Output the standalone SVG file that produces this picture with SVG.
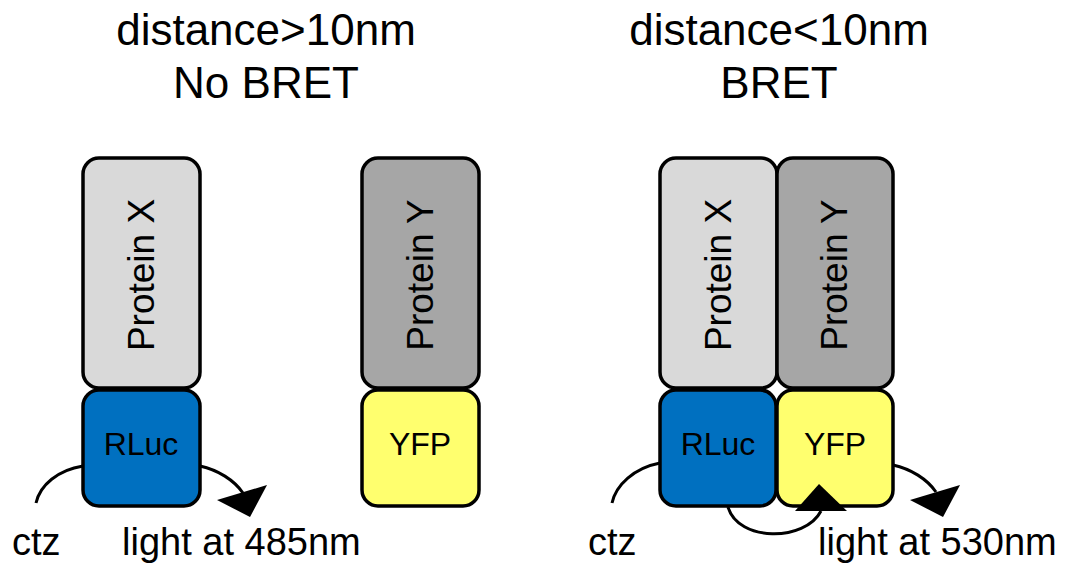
<svg xmlns="http://www.w3.org/2000/svg" width="1067" height="567" viewBox="0 0 1067 567">
<defs>
<style>
.t{font-family:"Liberation Sans",Arial,sans-serif;fill:#000}
.title{font-size:44px;text-anchor:middle}
.lbl{font-size:38px}
.box{stroke:#000;stroke-width:3.5}
.px{fill:#d9d9d9}
.py{fill:#a6a6a6}
.rl{fill:#0070c0}
.yf{fill:#ffff6e}
.pt{font-size:37px;text-anchor:middle}
.st{font-size:32px;text-anchor:middle}
.arc{fill:none;stroke:#000;stroke-width:3}
</style>
</defs>
<rect width="1067" height="567" fill="#fff"/>
<g id="titles">
<text class="t title" x="266" y="45">distance&gt;10nm</text>
<text class="t title" x="266" y="98">No BRET</text>
<text class="t title" x="779" y="45">distance&lt;10nm</text>
<text class="t title" x="779" y="98">BRET</text>
</g>
<g id="left-protein-x">
<rect class="box px" x="83" y="158" width="117" height="230" rx="16"/>
<text class="t pt" transform="translate(154,275) rotate(-90)">Protein X</text>
</g>
<g id="left-rluc">
<rect class="box rl" x="83" y="390" width="117" height="116" rx="16"/>
<text class="t st" x="141" y="455">RLuc</text>
</g>
<g id="left-protein-y">
<rect class="box py" x="362" y="158" width="117" height="230" rx="16"/>
<text class="t pt" transform="translate(433,275) rotate(-90)">Protein Y</text>
</g>
<g id="left-yfp">
<rect class="box yf" x="362" y="390" width="117" height="116" rx="16"/>
<text class="t st" x="420" y="455">YFP</text>
</g>
<g id="right-protein-x">
<rect class="box px" x="660" y="158" width="117" height="230" rx="16"/>
<text class="t pt" transform="translate(731,275) rotate(-90)">Protein X</text>
</g>
<g id="right-protein-y">
<rect class="box py" x="777" y="158" width="116" height="230" rx="16"/>
<text class="t pt" transform="translate(847,275) rotate(-90)">Protein Y</text>
</g>
<g id="right-rluc">
<rect class="box rl" x="660" y="390" width="116" height="116" rx="16"/>
<text class="t st" x="718" y="455">RLuc</text>
</g>
<g id="right-yfp">
<rect class="box yf" x="777" y="390" width="116" height="116" rx="16"/>
<text class="t st" x="835" y="455">YFP</text>
</g>
<g id="labels">
<text class="t lbl" x="12" y="555">ctz</text>
<text class="t lbl" x="122" y="555">light at 485nm</text>
<text class="t lbl" x="588" y="555">ctz</text>
<text class="t lbl" x="818" y="555">light at 530nm</text>
</g>
<g id="connectors">
<path class="arc" d="M36,503 C40,485 58,470 83,466"/>
<path class="arc" d="M200,466 C218,470 234,480 243,493"/>
<polygon points="217,500 267,485 250,517" fill="#000"/>
<path class="arc" d="M612,503 C616,485 634,468 660,463"/>
<path class="arc" d="M728,507 C738,542 805,542 821,511"/>
<polygon points="795,511 847,511 819,484" fill="#000"/>
<path class="arc" d="M893,465 C911,469 927,479 936,492"/>
<polygon points="910,500 960,485 943,517" fill="#000"/>
</g>
</svg>
